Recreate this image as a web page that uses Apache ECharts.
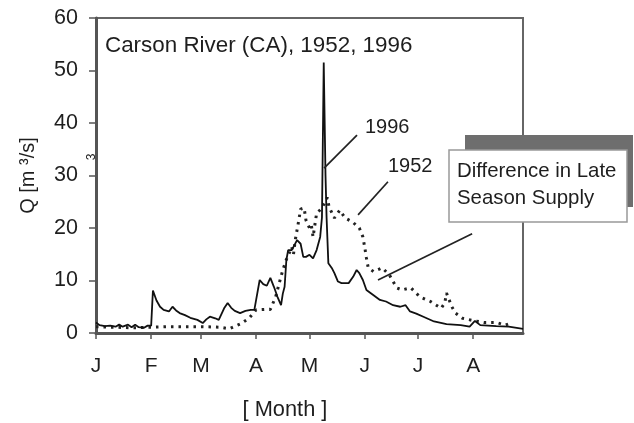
<!DOCTYPE html>
<html>
<head>
<meta charset="utf-8">
<script src="https://cdn.jsdelivr.net/npm/echarts@6/dist/echarts.min.js"></script>
<style>
  html, body { margin: 0; padding: 0; background: #fff; }
  #chart { width: 634px; height: 423px; }
</style>
</head>
<body>
<div id="chart"></div>
<script>
// day of year (from Jan 1) where each month starts, and its axis letter
const monthStarts = [0, 31, 59, 90, 120, 151, 181, 212];
const monthLabels = ['J', 'F', 'M', 'A', 'M', 'J', 'J', 'A'];

// 1996 daily flow, [day, Q m3/s]
const flow1996 = [
  [0, 2.0], [2, 1.5], [5, 1.3], [8, 1.4], [11, 1.2], [13, 1.6], [15, 1.2], [18, 1.6],
  [20, 1.1], [22, 1.6], [24, 1.1], [27, 1.0], [29, 1.4], [31, 1.4], [32, 8.1], [34, 6.2],
  [36, 5.0], [38, 4.4], [41, 4.1], [43, 5.0], [45, 4.3], [47, 3.8], [50, 3.4], [53, 2.9],
  [57, 2.5], [60, 1.9], [62, 2.6], [64, 3.1], [67, 2.8], [69, 2.5], [72, 4.7], [74, 5.7],
  [76, 4.8], [78, 4.2], [81, 3.8], [84, 4.2], [87, 4.4], [89, 4.4], [90, 6.3], [92, 10.1],
  [94, 9.3], [96, 9.0], [98, 10.5], [100, 8.8], [102, 6.9], [104, 5.3], [105, 7.5], [106, 8.8],
  [107, 13.9], [108, 15.8], [110, 15.8], [111, 16.4], [113, 17.7], [115, 17.0], [116.5, 14.5],
  [118, 14.5], [120, 14.9], [122, 14.2], [124, 15.8], [126, 18.3], [127, 22], [128, 51.5],
  [129, 30], [129.6, 22], [130.6, 13.3], [132.5, 12.4], [134, 11.4], [136, 9.8], [138, 9.5],
  [142, 9.5], [144.5, 10.7], [146.5, 12], [148, 11.4], [150, 10.1], [152, 8.2], [156, 7.2],
  [159.6, 6.3], [163, 6], [167, 5.3], [171, 5], [174, 5.3], [176.5, 4.1], [180, 3.7],
  [184, 3.1], [190, 2.2], [197, 1.7], [205, 1.5], [210, 1.2], [213, 2.3], [216, 1.5],
  [225, 1.3], [232, 1.2], [240, 0.8]
];

// 1952 daily flow, [day, Q m3/s]
const flow1952 = [
  [0, 1.2], [10, 1.1], [20, 1.0], [31, 1.1], [40, 1.2], [50, 1.2], [60, 1.2], [70, 1.1],
  [75, 0.8], [81, 1.7], [86, 2.8], [90, 4.4], [95, 4.5], [98, 4.5], [101, 6.9], [103, 9.5],
  [105, 12], [107, 14], [109, 15.5], [110, 16.4], [111, 15], [112, 17.7], [113, 19.6],
  [114, 21.5], [115, 23.6], [117, 23.8], [118, 21.5], [120, 20], [121, 20.6], [122, 18.3],
  [124, 22.8], [127, 23.8], [130, 25.8], [131, 24], [134, 21.9], [137, 23.4], [140, 21.9],
  [144, 21.2], [148, 20], [150, 18.3], [151, 16.4], [152, 14.3], [153, 12.4], [156, 11.7],
  [161, 12.4], [165, 11], [169, 8.6], [172, 8.2], [177, 8.6], [182, 6.9], [188, 6],
  [194, 4.7], [196, 5.7], [197, 7.6], [200, 5], [202, 3.8], [206, 2.8], [213, 2.3],
  [218, 2], [225, 2], [230, 1.5], [234, 2]
];

// leader lines for the labels, in data coords
const leaders = [
  [[146.7, 37.7], [128.2, 31.4]],  // 1996
  [[164.1, 28.8], [147.3, 22.5]],  // 1952
  [[211.4, 18.9], [158.5, 10.1]]   // late season box
];

const FONT = 'Liberation Sans, Arial, sans-serif';
const INK = '#1e1e1e';

var chart = echarts.init(document.getElementById('chart'), null, { renderer: 'canvas' });

chart.setOption({
  animation: false,
  backgroundColor: '#fff',
  textStyle: { fontFamily: FONT },
  grid: {
    left: 96, top: 18, right: 111, bottom: 90,
    show: true, borderColor: '#666', borderWidth: 2
  },
  xAxis: {
    type: 'value', min: 0, max: 240,
    axisLine: { show: true, lineStyle: { color: '#555', width: 3 } },
    axisTick: { show: true, customValues: monthStarts, length: 6, lineStyle: { color: '#555', width: 1.5 } },
    axisLabel: {
      customValues: monthStarts,
      formatter: function(v) { return monthLabels[monthStarts.indexOf(v)]; },
      fontSize: 21, margin: 23, color: INK, fontFamily: FONT
    },
    splitLine: { show: false }
  },
  yAxis: {
    type: 'value', min: 0, max: 60, interval: 10,
    name: 'Q [m \u00b3/s]', nameLocation: 'middle', nameGap: 58, nameRotate: 90,
    nameTextStyle: { fontSize: 20, color: INK, fontFamily: FONT },
    axisLine: { show: true, lineStyle: { color: '#555', width: 3 } },
    axisTick: { show: true, length: 7, lineStyle: { color: '#555', width: 1.5 } },
    axisLabel: { fontSize: 21.5, margin: 18, color: INK, fontFamily: FONT },
    splitLine: { show: false }
  },
  series: [
    {
      name: '1952', type: 'line', data: flow1952, showSymbol: false, z: 3,
      lineStyle: { color: '#222', width: 3, type: [2.5, 5], cap: 'butt' }
    },
    {
      name: '1996', type: 'line', data: flow1996, showSymbol: false, z: 4,
      lineStyle: { color: '#111', width: 1.8 },
      markLine: {
        silent: true, symbol: ['none', 'none'], label: { show: false },
        lineStyle: { color: '#222', width: 1.7, type: 'solid' },
        data: leaders.map(function(l) { return [{ coord: l[0] }, { coord: l[1] }]; })
      }
    }
  ],
  graphic: [
    { type: 'text', left: 105, top: 35, style: { text: 'Carson River (CA), 1952, 1996', font: '22.4px ' + FONT, fill: INK } },
    { type: 'text', left: 365, top: 117, style: { text: '1996', font: '20px ' + FONT, fill: INK } },
    { type: 'text', left: 388, top: 156, style: { text: '1952', font: '20px ' + FONT, fill: INK } },
    { type: 'rect', shape: { x: 465, y: 135, width: 168, height: 72 }, style: { fill: '#6e6e6e' }, z: 100 },
    { type: 'rect', shape: { x: 449, y: 150, width: 178, height: 72 }, style: { fill: '#fff', stroke: '#999', lineWidth: 1.5 }, z: 101 },
    { type: 'text', left: 457, top: 161, z: 102, style: { text: 'Difference in Late', font: '20.4px ' + FONT, fill: INK } },
    { type: 'text', left: 457, top: 188, z: 102, style: { text: 'Season Supply', font: '20.4px ' + FONT, fill: INK } },
    { type: 'text', x: 285, y: 410, style: { text: '[ Month ]', font: '21.8px ' + FONT, fill: INK, align: 'center', verticalAlign: 'middle' } },
    { type: 'text', x: 92, y: 157, rotation: Math.PI / 2, style: { text: '3', font: '12px ' + FONT, fill: INK, align: 'center', verticalAlign: 'middle' } }
  ]
});
</script>
</body>
</html>
